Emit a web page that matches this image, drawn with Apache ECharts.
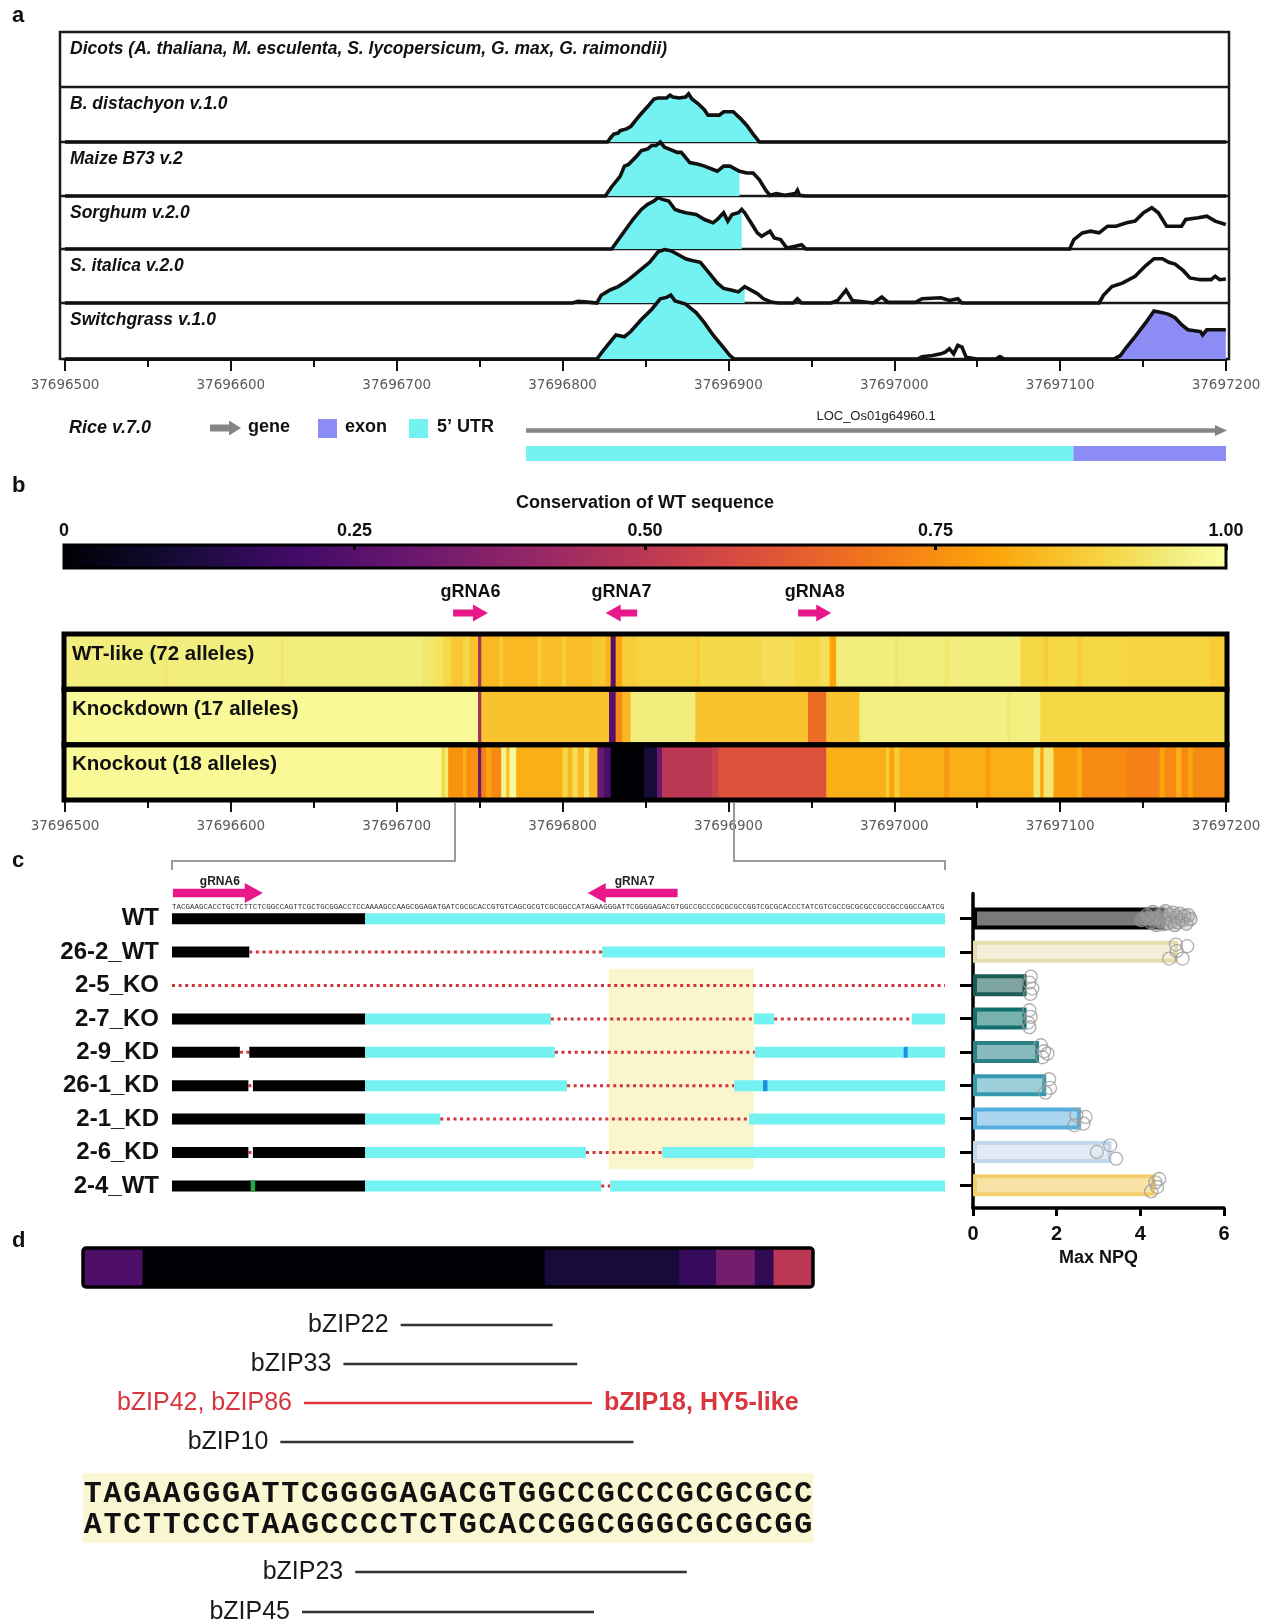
<!DOCTYPE html>
<html>
<head>
<meta charset="utf-8">
<script src="https://cdn.jsdelivr.net/npm/echarts@6/dist/echarts.min.js"></script>
<style>
  html, body { margin: 0; padding: 0; background: #fff; }
  #chart { width: 1270px; height: 1623px; }
</style>
</head>
<body>
<div id="chart"></div>
<script>
// ---------------------------------------------------------------- data
const REGION_START = 37696500;
const REGION_END = 37697200;

const SPECIES_LABELS = [
  'Dicots (A. thaliana, M. esculenta, S. lycopersicum, G. max, G. raimondii)',
  'B. distachyon v.1.0', 'Maize B73 v.2', 'Sorghum v.2.0', 'S. italica v.2.0', 'Switchgrass v.1.0'
];

// conservation profiles: [bp offset from REGION_START, % identity] (50 = baseline)
const CONS_BDISTACHYON = [[0,50],[327.1,50],[329.1,54.1],[330.9,57.2],[333.5,58.1],[334.7,60.3],[338.5,61.9],[341.1,64.1],[344.9,71.3],[347.5,75.9],[351.3,82.2],[355.1,89.1],[357.6,90],[362.7,90],[364.8,92.5],[366.5,90.9],[370.4,90],[374.2,90.9],[376,93.8],[378,89.1],[381.8,84.7],[385.6,79.1],[387.7,74.4],[394.5,74.4],[397.1,77.5],[402.9,77.5],[407.3,71.3],[411.1,65],[414.9,57.2],[418.7,50],[700,50]];
const CONS_MAIZE = [[0,50],[325.8,50],[329.6,58.6],[334.7,68.2],[337.3,77.7],[339.8,79.3],[344.9,87.3],[347.5,92],[351.3,93.6],[353.8,96.8],[356.4,96.8],[358.9,100],[361.5,95.2],[364,93.6],[369.1,90.4],[371.6,90.4],[376.7,80.9],[381.8,79.3],[385.6,77.7],[390.7,74.5],[393.3,72.9],[397.1,77.7],[400.9,77.7],[406.7,72.9],[407.3,72.9],[411.1,71.3],[414.9,71.3],[418.7,65],[422.5,55.4],[425.1,50.6],[428.9,52.2],[434,50.6],[440.3,52.2],[441.6,55.4],[442.9,50.6],[446.7,50],[700,50]];
const CONS_SORGHUM = [[0,50],[329.6,50],[332.2,55.7],[337.3,66.8],[342.4,77.8],[347.5,87.3],[351.3,92.1],[355.1,95.3],[357.6,98.4],[360.2,96.8],[364,95.3],[367.8,87.3],[370.4,85.8],[374.2,84.2],[380.5,82.6],[385.6,77.8],[390.7,74.7],[393.3,77.8],[397.1,84.2],[399.6,76.3],[402.2,82.6],[406,84.2],[408,87.3],[409.8,84.2],[413.6,74.7],[417.4,65.2],[420,62],[425.1,66.8],[427.6,60.4],[431.4,58.9],[435.2,51],[440.3,52.5],[444.1,54.1],[446.7,50],[605.7,50],[608.3,58.9],[613.4,65.2],[618.4,66.8],[623.5,65.2],[628.6,71.5],[633.7,71.5],[640.1,74.7],[645.2,76.3],[650.3,84.2],[655.3,88.9],[659.2,84.2],[664.2,71.5],[668.1,71.5],[673.2,71.5],[675.7,77.8],[683.3,79.4],[688.4,81],[693.5,76.3],[699.9,73.1]];
const CONS_SITALICA = [[0,50],[306,50],[309.3,51.6],[316.9,50.6],[320.7,50],[323.3,57.1],[328.4,61.9],[333.5,65.2],[338.5,70],[342.4,74.8],[347.5,81.3],[352.5,87.7],[357.6,97.4],[361.5,99.5],[365.3,98.5],[370.4,94.2],[374.2,91],[378,89.4],[383.1,87.7],[388.2,78.1],[393.3,68.4],[397.1,63.5],[402.2,61.9],[406,60.3],[409.8,65.2],[413.6,61.9],[417.4,58.7],[421.2,53.9],[426.3,50.6],[430.2,50],[439.1,50],[441.6,53.9],[444.1,50],[462,50],[465.8,52.3],[470.9,61.9],[474.7,52.3],[487.4,50],[492.5,55.5],[496.3,50.6],[512.8,50.6],[516.7,53.9],[528.1,54.8],[533.2,52.3],[538.3,53.9],[540.8,50],[623.5,50],[626.1,57.1],[631.2,65.2],[637.5,68.4],[645.2,74.8],[651.5,84.5],[656.6,91],[661.7,91],[665.5,87.7],[669.3,86.1],[674.4,79.7],[678.2,73.2],[684.6,71.6],[691,71.6],[693.5,74.8],[696.1,71.6],[699.9,72.3]];
const CONS_SWITCHGRASS = [[0,50],[320.7,50],[324.6,57.7],[329.6,66.9],[332.2,71.5],[337.3,69.9],[341.1,74.5],[347.5,85.3],[353.8,94.5],[358.9,103.7],[362.7,105],[365.3,107],[367.8,101.8],[374.2,99.1],[380.5,91.4],[385.6,82.2],[390.7,71.5],[395.8,62.3],[400.9,53.1],[403.4,50],[514.1,50],[516.7,52.1],[523,53.1],[528.1,54.6],[530.7,56.1],[533.2,59.2],[535.8,54.6],[538.3,62.3],[540.8,60.7],[543.4,51.5],[549.7,50],[561.2,50],[563.7,52.1],[566.3,50],[632.4,50],[636.3,53.1],[640.1,60.7],[645.2,69.9],[651.5,82.2],[656.6,92.9],[661.7,91.4],[665.5,89.9],[669.3,86.8],[673.2,80.7],[677,76.1],[684.6,74.5],[685.9,71.5],[688.4,76.1],[693.5,76.1],[699.9,76.1]];

// conserved 5' UTR / exon shading spans (bp offsets), one per species row
const UTR_SHADE = [[327, 420], [325.8, 406.7], [329.6, 408], [320.7, 409.8], [320.7, 403.4]];
const EXON_SHADE = [null, null, null, null, [632.4, 700]];

// rice gene model (bp offsets)
const RICE_GENE = [278, 700];
const RICE_UTR5 = [278, 608];
const RICE_EXON = [608, 700];
const RICE_TRANSCRIPT = 'LOC_Os01g64960.1';

// colour bar
const COLORBAR_TICKS = ['0', '0.25', '0.50', '0.75', '1.00'];

// gRNA target sites (bp offsets, strand)
const GRNA_NAMES = ['gRNA6', 'gRNA7', 'gRNA8'];
const GRNA_SPANS = [[234, 255, 1], [326, 345, -1], [442, 462, 1]];

// per-base conservation of the WT sequence: [from, to, fraction]
const ALLELE_GROUPS = ['WT-like (72 alleles)', 'Knockdown (17 alleles)', 'Knockout (18 alleles)'];
const CONS_WT_LIKE = [[0,60,0.955],[60,62,0.94],[62,130,0.955],[130,132,0.94],[132,215,0.955],[215,222,0.94],[222,228,0.925],[228,233,0.9],[233,240,0.87],[240,244,0.9],[244,249,0.86],[249,251,0.45],[251,262,0.84],[262,264,0.88],[264,285,0.84],[285,287,0.88],[287,300,0.85],[300,302,0.89],[302,318,0.85],[318,326,0.87],[326,329,0.83],[329,332,0.25],[332,336,0.8],[336,345,0.88],[345,380,0.895],[380,383,0.875],[383,420,0.905],[420,440,0.915],[440,455,0.9],[455,461,0.92],[461,465,0.8],[465,500,0.955],[500,503,0.94],[503,530,0.955],[530,533,0.94],[533,576,0.955],[576,590,0.9],[590,593,0.88],[593,610,0.9],[610,613,0.875],[613,640,0.9],[640,690,0.895],[690,700,0.875]];
const CONS_KNOCKDOWN = [[0,249,0.985],[249,251,0.45],[251,328,0.86],[328,332,0.25],[332,336,0.74],[336,341,0.84],[341,380,0.955],[380,448,0.86],[448,459,0.67],[459,479,0.86],[479,568,0.96],[568,570,0.94],[570,588,0.96],[588,700,0.9]];
const CONS_KNOCKOUT = [[0,227,0.985],[227,229,0.9],[229,231,0.95],[231,240,0.76],[240,242,0.82],[242,249,0.75],[249,251,0.3],[251,254,0.72],[254,257,0.8],[257,263,0.74],[263,266,0.97],[266,268,0.85],[268,272,0.99],[272,300,0.82],[300,303,0.9],[303,306,0.84],[306,309,0.92],[309,313,0.84],[313,316,0.93],[316,321,0.84],[321,325,0.3],[325,329,0.22],[329,349,0.0],[349,357,0.1],[357,360,0.3],[360,390,0.5],[390,394,0.54],[394,459,0.6],[459,495,0.82],[495,497,0.88],[497,500,0.8],[500,503,0.88],[503,530,0.82],[530,533,0.77],[533,555,0.82],[555,558,0.78],[558,584,0.82],[584,588,0.94],[588,590,0.8],[590,596,0.94],[596,610,0.78],[610,613,0.82],[613,640,0.74],[640,660,0.72],[660,663,0.8],[663,670,0.74],[670,673,0.82],[673,677,0.74],[677,680,0.8],[680,700,0.74]];

// panel c: target sequence and edited alleles (positions = index in the sequence)
const TARGET_SEQUENCE = 'TACGAAGCACCTGCTCTTCTCGGCCAGTTCGCTGCGGACCTCCAAAAGCCAAGCGGAGATGATCGCGCACCGTGTCAGCGCGTCGCGGCCATAGAAGGGATTCGGGGAGACGTGGCCGCCCGCGCGCCGGTCGCGCACCCTATCGTCGCCGCGCGCCGCCGCCGGCCAATCG';
const TARGET_GRNA_NAMES = ['gRNA6', 'gRNA7'];
const TARGET_GRNA_SPANS = [[0.2, 20.2, 1], [92.5, 112.5, -1]];
const LINES = ['WT', '26-2_WT', '2-5_KO', '2-7_KO', '2-9_KD', '26-1_KD', '2-1_KD', '2-6_KD', '2-4_WT'];
// P promoter, U 5' UTR, D deletion, S substitution, I insertion
const ALLELE_SEGMENTS = [
  [[0,43,'P'],[43,172,'U']],
  [[0,17.2,'P'],[17.2,95.7,'D'],[95.7,172,'U']],
  [[0,172,'D']],
  [[0,43,'P'],[43,84.3,'U'],[84.3,129.5,'D'],[129.5,134,'U'],[134,164.6,'D'],[164.6,172,'U']],
  [[0,15.1,'P'],[15.1,17.2,'D'],[17.2,43,'P'],[43,85.2,'U'],[85.2,129.7,'D'],[129.7,172,'U'],[162.8,163.7,'S']],
  [[0,17,'P'],[17,18,'D'],[18,43,'P'],[43,87.9,'U'],[87.9,125.1,'D'],[125.1,172,'U'],[131.5,132.5,'S']],
  [[0,43,'P'],[43,59.7,'U'],[59.7,128.4,'D'],[128.4,172,'U']],
  [[0,17,'P'],[17,18,'D'],[18,43,'P'],[43,92.1,'U'],[92.1,109.1,'D'],[109.1,172,'U']],
  [[0,43,'P'],[43,95.5,'U'],[95.5,97.5,'D'],[97.5,172,'U'],[17.5,18.5,'I']]
];
const MOTIF_WINDOW = [97.2, 129.5, 2, 7]; // sequence span, first and last line

// Max NPQ per line: mean and replicates [value, jitter in row units]
const NPQ_MEAN = [4.58, 4.9, 1.28, 1.28, 1.58, 1.75, 2.58, 3.31, 4.36];
const NPQ_REPS = [
  [[4.02,0.05],[4.15,-0.1],[4.25,0.12],[4.3,-0.2],[4.38,0.2],[4.42,-0.05],[4.48,0.08],[4.52,-0.15],[4.55,0.18],[4.6,-0.22],[4.62,0.02],[4.66,0.15],[4.7,-0.12],[4.74,0.1],[4.78,-0.18],[4.82,0.2],[4.86,-0.05],[4.9,0.12],[4.95,-0.15],[5.0,0.05],[5.05,-0.08],[5.1,0.16],[5.15,-0.1],[5.2,0.02]],
  [[5.12,-0.17],[4.85,-0.22],[4.87,-0.02],[4.69,0.2],[5.01,0.2]],
  [[1.38,-0.26],[1.35,-0.08],[1.42,0.1],[1.37,0.26]],
  [[1.35,-0.25],[1.38,-0.05],[1.32,0.12],[1.35,0.26]],
  [[1.62,-0.2],[1.7,-0.02],[1.66,0.16],[1.78,0.05]],
  [[1.82,-0.18],[1.84,0.08],[1.73,0.22]],
  [[2.47,-0.1],[2.69,-0.05],[2.64,0.15],[2.42,0.2]],
  [[2.96,0.0],[3.28,-0.2],[3.42,0.2]],
  [[4.26,0.18],[4.36,-0.09],[4.45,-0.19],[4.4,0.05]]
];

// panel d: G-box region in the knockout deletion
const MOTIF_TOP = 'TAGAAGGGATTCGGGGAGACGTGGCCGCCCGCGCGCC';
const MOTIF_BOTTOM = 'ATCTTCCCTAAGCCCCTCTGCACCGGCGGGCGCGCGG';
const MOTIF_CONS = [[0,3,0.23],[3,23.4,0.0],[23.4,30.2,0.1],[30.2,32.1,0.17],[32.1,34.05,0.33],[34.05,35,0.16],[35,37,0.5]];
const BZIP_ABOVE = ['bZIP22', 'bZIP33', 'bZIP42, bZIP86', 'bZIP10'];
const BZIP_ABOVE_SPANS = [[16.1,23.8],[13.2,25.05],[11.2,25.8],[10.0,27.9]];
const BZIP_BELOW = ['bZIP23', 'bZIP45'];
const BZIP_BELOW_SPANS = [[13.8,30.6],[11.1,25.9]];
const BZIP_PARTNER = 'bZIP18, HY5-like';

// ---------------------------------------------------------------- styles
const FONT = '"Liberation Sans", Arial, sans-serif';
const CYAN = '#74f2f2';
const EXON_PURPLE = '#8c8cf5';
const MAGENTA = '#e8178a';
const DEL_RED = '#d0343c';
const GENE_GREY = '#858585';
const BZIP_RED = '#d8353d';
const INFERNO_STOPS = [[0,'#000004'],[0.1,'#160b39'],[0.2,'#420a68'],[0.3,'#6a176e'],[0.4,'#932667'],[0.5,'#bc3754'],[0.6,'#dd513a'],[0.7,'#f37819'],[0.8,'#fca50a'],[0.9,'#f6d746'],[0.95,'#f1ec7a'],[1,'#fcffa4']];
const SEG_KINDS = 'PUDSI';
const SEG_COLORS = { P: '#000000', U: CYAN, S: '#1f8fe0', I: '#22a845' };
const NPQ_EDGE = ['#000000','#e6dcae','#1c5b56','#137070','#2b8087','#3699b0','#56ade0','#c3d6ea','#f4ce6c'];
const NPQ_FILL = ['#7a7a7a','#f4efd8','#80a6a2','#77b2af','#86babd','#9dcfdb','#acd6f0','#e2ebf5','#f8e2a6'];

// ---------------------------------------------------------------- helpers
const hexRgb = h => [1, 3, 5].map(i => parseInt(h.slice(i, i + 2), 16));
function infernoColor(v) {
  const s = INFERNO_STOPS;
  if (v <= s[0][0]) return s[0][1];
  for (let i = 1; i < s.length; i++) {
    if (v <= s[i][0]) {
      const t = (v - s[i - 1][0]) / (s[i][0] - s[i - 1][0]);
      const a = hexRgb(s[i - 1][1]), b = hexRgb(s[i][1]);
      return 'rgb(' + a.map((c, k) => Math.round(c + (b[k] - c) * t)).join(',') + ')';
    }
  }
  return s[s.length - 1][1];
}

const grids = [], xAxes = [], yAxes = [], series = [], graphics = [];
function addGrid(g, x, y) {
  grids.push(Object.assign({ containLabel: false }, g));
  const i = grids.length - 1;
  xAxes.push(Object.assign({ gridIndex: i }, x));
  yAxes.push(Object.assign({ gridIndex: i }, y));
  return i;
}
function addSeries(s) { series.push(s); return series.length - 1; }
const HIDDEN_VALUE = (min, max, inverse) => ({ type: 'value', min, max, inverse: !!inverse, show: false, axisLine: { onZero: false } });

function genomicX(show) {
  return {
    type: 'value', min: REGION_START, max: REGION_END, interval: 100, show,
    axisLine: { show: true, onZero: false, lineStyle: { color: '#111', width: 3 } },
    axisTick: { show: true, length: 12, lineStyle: { color: '#111', width: 2 } },
    minorTick: { show: true, splitNumber: 2, length: 8, lineStyle: { color: '#111', width: 2 } },
    axisLabel: { margin: 19, color: '#5a5a5a', fontSize: 13.5, fontFamily: '"DejaVu Sans", sans-serif', formatter: v => String(v) },
    splitLine: { show: false }, minorSplitLine: { show: false }
  };
}
function arrowPoints(x0, x1, yc, sh, hh, hl, dir) {
  if (dir > 0) return [[x0, yc - sh], [x1 - hl, yc - sh], [x1 - hl, yc - hh], [x1, yc], [x1 - hl, yc + hh], [x1 - hl, yc + sh], [x0, yc + sh]];
  return [[x1, yc - sh], [x0 + hl, yc - sh], [x0 + hl, yc - hh], [x0, yc], [x0 + hl, yc + hh], [x0 + hl, yc + sh], [x1, yc + sh]];
}
function txt(text, x, y, font, extra) {
  graphics.push({ type: 'text', z: 20, style: Object.assign({ text, x, y, font, fill: '#111', align: 'left', verticalAlign: 'middle', textAlign: 'left', textVerticalAlign: 'middle' }, extra || {}) });
}
const rs = v => REGION_START + v;

// ---------------------------------------------------------------- panel a: conservation profiles
const ROW_EDGES = [87, 142, 196, 249, 303, 359];
[CONS_BDISTACHYON, CONS_MAIZE, CONS_SORGHUM, CONS_SITALICA, CONS_SWITCHGRASS].forEach((profile, i) => {
  const gi = addGrid({ left: 65, width: 1161, top: ROW_EDGES[i], height: ROW_EDGES[i + 1] - ROW_EDGES[i] },
    genomicX(i === 4), HIDDEN_VALUE(50, 100));
  const pts = profile.map(p => [rs(p[0]), p[1]]);
  const shade = (span, color) => addSeries({
    type: 'line', xAxisIndex: gi, yAxisIndex: gi, silent: true, clip: false, z: 1,
    data: pts.filter(p => p[0] >= rs(span[0]) && p[0] <= rs(span[1])),
    showSymbol: false, lineStyle: { width: 0 }, areaStyle: { color, opacity: 1, origin: 'start' }
  });
  shade(UTR_SHADE[i], CYAN);
  if (EXON_SHADE[i]) shade(EXON_SHADE[i], EXON_PURPLE);
  addSeries({ type: 'line', xAxisIndex: gi, yAxisIndex: gi, silent: true, clip: false, z: 3, data: pts, showSymbol: false,
    lineStyle: { color: '#111', width: 3.6, join: 'miter' } });
});

// rice gene model
const gGene = addGrid({ left: 65, width: 1161, top: 419, height: 46 }, genomicX(false), HIDDEN_VALUE(0, 2, true));
addSeries({
  type: 'custom', xAxisIndex: gGene, yAxisIndex: gGene, silent: true, encode: { x: [0, 1], y: 2 },
  data: [[rs(RICE_GENE[0]), rs(RICE_GENE[1]), 0.5]],
  renderItem: (params, api) => {
    const a = api.coord([api.value(0), api.value(2)]), b = api.coord([api.value(1), api.value(2)]);
    return { type: 'group', children: [
      { type: 'line', shape: { x1: a[0], y1: a[1], x2: b[0] - 8, y2: a[1] }, style: { stroke: GENE_GREY, lineWidth: 4.6 } },
      { type: 'polygon', shape: { points: [[b[0] - 11, a[1] - 5.5], [b[0] + 1, a[1]], [b[0] - 11, a[1] + 5.5]] }, style: { fill: GENE_GREY } },
      { type: 'text', style: { text: RICE_TRANSCRIPT, x: (a[0] + b[0]) / 2, y: a[1] - 14, align: 'center', verticalAlign: 'middle', textAlign: 'center', textVerticalAlign: 'middle', font: '13px ' + FONT, fill: '#222' } }
    ] };
  }
});
addSeries({
  type: 'custom', xAxisIndex: gGene, yAxisIndex: gGene, silent: true, encode: { x: [0, 1], y: 2 },
  data: [[rs(RICE_UTR5[0]), rs(RICE_UTR5[1]), 1.5, 0], [rs(RICE_EXON[0]), rs(RICE_EXON[1]), 1.5, 1]],
  renderItem: (params, api) => {
    const a = api.coord([api.value(0), api.value(2)]), b = api.coord([api.value(1), api.value(2)]);
    return { type: 'rect', shape: { x: a[0], y: a[1] - 7.5, width: b[0] - a[0], height: 15 }, style: { fill: api.value(3) === 1 ? EXON_PURPLE : CYAN } };
  }
});

// ---------------------------------------------------------------- panel b
const colorbarFill = new echarts.graphic.LinearGradient(0, 0, 1, 0,
  INFERNO_STOPS.map(s => ({ offset: s[0], color: s[1] })));
const gBar = addGrid({ left: 64, width: 1162, top: 545, height: 23, show: true, backgroundColor: colorbarFill, borderColor: '#000', borderWidth: 3 },
  { type: 'value', min: 0, max: 1, interval: 0.25, position: 'top',
    axisLine: { show: false, onZero: false },
    axisTick: { show: true, inside: true, length: 5, lineStyle: { color: '#000', width: 3 } },
    axisLabel: { margin: 5, fontFamily: FONT, fontWeight: 'bold', fontSize: 18, color: '#111', formatter: v => COLORBAR_TICKS[Math.round(v / 0.25)] },
    splitLine: { show: false } },
  HIDDEN_VALUE(0, 1));

const gGrna = addGrid({ left: 65, width: 1161, top: 600, height: 26 }, genomicX(false), HIDDEN_VALUE(0, 1, true));
addSeries({
  type: 'custom', xAxisIndex: gGrna, yAxisIndex: gGrna, silent: true, encode: { x: [0, 1], y: 3 },
  data: GRNA_SPANS.map(s => [rs(s[0]), rs(s[1]), s[2], 0.5]),
  renderItem: (params, api) => {
    const a = api.coord([api.value(0), api.value(3)]), b = api.coord([api.value(1), api.value(3)]);
    return { type: 'group', children: [
      { type: 'polygon', shape: { points: arrowPoints(a[0], b[0], a[1], 3.6, 8.5, 15, api.value(2)) }, style: { fill: MAGENTA } },
      { type: 'text', style: { text: GRNA_NAMES[params.dataIndex], x: (a[0] + b[0]) / 2, y: a[1] - 21, align: 'center', verticalAlign: 'middle', textAlign: 'center', textVerticalAlign: 'middle', font: 'bold 18px ' + FONT, fill: '#111' } }
    ] };
  }
});

const gHeat = addGrid({ left: 65, width: 1161, top: 634, height: 166 },
  Object.assign(genomicX(true), { axisLine: { show: false, onZero: false } }),
  { type: 'category', data: ALLELE_GROUPS, inverse: true, axisLine: { show: false }, axisTick: { show: false }, axisLabel: { show: false } });
const heatData = [];
[CONS_WT_LIKE, CONS_KNOCKDOWN, CONS_KNOCKOUT].forEach((row, r) => row.forEach(s => heatData.push([rs(s[0]), rs(s[1]), s[2], r])));
addSeries({
  type: 'custom', xAxisIndex: gHeat, yAxisIndex: gHeat, silent: true, encode: { x: [0, 1], y: 3 }, z: 2,
  data: heatData,
  renderItem: (params, api) => {
    const a = api.coord([api.value(0), api.value(3)]), b = api.coord([api.value(1), api.value(3)]);
    const h = api.size([0, 1])[1];
    return { type: 'rect', shape: { x: a[0], y: a[1] - h / 2, width: b[0] - a[0] + 0.6, height: h }, style: { fill: infernoColor(api.value(2)) } };
  }
});
addSeries({
  type: 'custom', xAxisIndex: gHeat, yAxisIndex: gHeat, silent: true, encode: { x: [0, 1], y: 2 }, z: 5,
  data: ALLELE_GROUPS.map((g, r) => [REGION_START, REGION_END, r]),
  renderItem: (params, api) => {
    const a = api.coord([api.value(0), api.value(2)]), b = api.coord([api.value(1), api.value(2)]);
    const h = api.size([0, 1])[1];
    return { type: 'group', children: [
      { type: 'rect', shape: { x: a[0] - 1, y: a[1] - h / 2, width: b[0] - a[0] + 2, height: h }, style: { fill: 'none', stroke: '#000', lineWidth: 5 } },
      { type: 'text', style: { text: ALLELE_GROUPS[params.dataIndex], x: a[0] + 7, y: a[1] - 7.5, align: 'left', verticalAlign: 'middle', textAlign: 'left', textVerticalAlign: 'middle', font: 'bold 20.5px ' + FONT, fill: '#111' } }
    ] };
  }
});

// ---------------------------------------------------------------- panel c
const SEQ_LEN = TARGET_SEQUENCE.length;
const gHead = addGrid({ left: 172, width: 773, top: 875, height: 40 }, HIDDEN_VALUE(0, SEQ_LEN), HIDDEN_VALUE(0, 1, true));
addSeries({
  type: 'custom', xAxisIndex: gHead, yAxisIndex: gHead, silent: true, encode: { x: [0, 1], y: 3 },
  data: TARGET_GRNA_SPANS.map(s => [s[0], s[1], s[2], 0.45]),
  renderItem: (params, api) => {
    const a = api.coord([api.value(0), api.value(3)]), b = api.coord([api.value(1), api.value(3)]);
    return { type: 'group', children: [
      { type: 'polygon', shape: { points: arrowPoints(a[0], b[0], a[1], 4.3, 10, 18, api.value(2)) }, style: { fill: MAGENTA } },
      { type: 'text', style: { text: TARGET_GRNA_NAMES[params.dataIndex], x: (a[0] + b[0]) / 2 + 2, y: a[1] - 11, align: 'center', verticalAlign: 'middle', textAlign: 'center', textVerticalAlign: 'middle', font: 'bold 12px ' + FONT, fill: '#222' } }
    ] };
  }
});
addSeries({
  type: 'custom', xAxisIndex: gHead, yAxisIndex: gHead, silent: true, encode: { x: [0, 1], y: 2 },
  data: [[0, SEQ_LEN, 0.8]],
  renderItem: (params, api) => {
    const a = api.coord([api.value(0), api.value(2)]), b = api.coord([api.value(1), api.value(2)]);
    const fs = (b[0] - a[0]) / SEQ_LEN / 0.6;
    return { type: 'text', style: { text: TARGET_SEQUENCE, x: a[0], y: a[1], align: 'left', verticalAlign: 'middle', textAlign: 'left', textVerticalAlign: 'middle', font: fs.toFixed(2) + 'px "Liberation Mono", monospace', fill: '#333' } };
  }
});

const gAln = addGrid({ left: 172, width: 773, top: 902, height: 300.6 }, HIDDEN_VALUE(0, SEQ_LEN),
  { type: 'category', data: LINES, inverse: true, axisLine: { show: false }, axisTick: { show: false },
    axisLabel: { margin: 13, fontFamily: FONT, fontWeight: 'bold', fontSize: 24, color: '#111' } });
addSeries({
  type: 'custom', xAxisIndex: gAln, yAxisIndex: gAln, silent: true, encode: { x: [0, 1], y: [2, 3] }, z: 1,
  data: [MOTIF_WINDOW],
  renderItem: (params, api) => {
    const a = api.coord([api.value(0), api.value(2)]), b = api.coord([api.value(1), api.value(3)]);
    const h = api.size([0, 1])[1];
    return { type: 'rect', shape: { x: a[0], y: a[1] - h / 2, width: b[0] - a[0], height: b[1] - a[1] + h }, style: { fill: '#fbf5cd' } };
  }
});
const alnData = [];
ALLELE_SEGMENTS.forEach((segs, r) => segs.forEach(s => alnData.push([s[0], s[1], SEG_KINDS.indexOf(s[2]), r])));
addSeries({
  type: 'custom', xAxisIndex: gAln, yAxisIndex: gAln, silent: true, encode: { x: [0, 1], y: 3 }, z: 2,
  data: alnData,
  renderItem: (params, api) => {
    const kind = SEG_KINDS[api.value(2)];
    const a = api.coord([api.value(0), api.value(3)]), b = api.coord([api.value(1), api.value(3)]);
    if (kind === 'D') {
      return { type: 'line', shape: { x1: a[0], y1: a[1], x2: b[0], y2: b[1] }, style: { stroke: DEL_RED, lineWidth: 3, lineDash: [3, 3.6] } };
    }
    return { type: 'rect', shape: { x: a[0], y: a[1] - 5.5, width: b[0] - a[0], height: 11 }, style: { fill: SEG_COLORS[kind] } };
  }
});

// Max NPQ
const gNpq = addGrid({ left: 973, top: 893.5, width: 251, height: 314.5 },
  { type: 'value', min: 0, max: 6, interval: 2,
    axisLine: { show: true, onZero: false, lineStyle: { color: '#000', width: 3.5 } },
    axisTick: { show: true, length: 8, lineStyle: { color: '#000', width: 3 } },
    axisLabel: { margin: 16, fontFamily: FONT, fontWeight: 'bold', fontSize: 20, color: '#111' },
    splitLine: { show: false },
    name: 'Max NPQ', nameLocation: 'middle', nameGap: 41,
    nameTextStyle: { fontFamily: FONT, fontWeight: 'bold', fontSize: 18, color: '#111' } },
  { type: 'value', min: -0.75, max: 8.68, inverse: true,
    axisLine: { show: true, onZero: false, lineStyle: { color: '#000', width: 3.5 } },
    axisTick: { show: true, length: 13, customValues: LINES.map((l, i) => i), lineStyle: { color: '#000', width: 3 } },
    axisLabel: { show: false }, splitLine: { show: false } });
addSeries({
  type: 'custom', xAxisIndex: gNpq, yAxisIndex: gNpq, silent: true, encode: { x: 0, y: 1 }, z: 2,
  data: NPQ_MEAN.map((v, i) => [v, i]),
  renderItem: (params, api) => {
    const row = api.value(1);
    const a = api.coord([0, row]), b = api.coord([api.value(0), row]);
    return { type: 'rect', shape: { x: a[0] + 2, y: a[1] - 9, width: b[0] - a[0] - 4, height: 18 }, style: { fill: NPQ_FILL[row], stroke: NPQ_EDGE[row], lineWidth: 4 } };
  }
});
addSeries({
  type: 'scatter', xAxisIndex: gNpq, yAxisIndex: gNpq, silent: true, z: 4, symbol: 'circle', symbolSize: 13,
  data: NPQ_REPS[0].map(p => [p[0], p[1]]),
  itemStyle: { color: 'rgba(165,165,165,0.45)', borderColor: '#8e8e8e', borderWidth: 1.2 }
});
const repData = [];
NPQ_REPS.forEach((reps, r) => { if (r > 0) reps.forEach(p => repData.push([p[0], r + p[1]])); });
addSeries({
  type: 'scatter', xAxisIndex: gNpq, yAxisIndex: gNpq, silent: true, z: 4, symbol: 'circle', symbolSize: 13,
  data: repData,
  itemStyle: { color: 'rgba(255,255,255,0)', borderColor: '#9c9c9c', borderWidth: 1.3 }
});

// ---------------------------------------------------------------- panel d
const MOTIF_LEN = MOTIF_TOP.length;
const gStrip = addGrid({ left: 83, width: 730, top: 1248, height: 39 }, HIDDEN_VALUE(0, MOTIF_LEN), HIDDEN_VALUE(0, 1));
addSeries({
  type: 'custom', xAxisIndex: gStrip, yAxisIndex: gStrip, silent: true, encode: { x: [0, 1] }, z: 2,
  data: MOTIF_CONS,
  renderItem: (params, api) => {
    const a = api.coord([api.value(0), 0]), b = api.coord([api.value(1), 0]);
    const cs = params.coordSys;
    return { type: 'rect', shape: { x: a[0], y: cs.y, width: b[0] - a[0] + 0.5, height: cs.height }, style: { fill: infernoColor(api.value(2)) } };
  }
});
addSeries({
  type: 'custom', xAxisIndex: gStrip, yAxisIndex: gStrip, silent: true, encode: { x: [0, 1], y: 2 }, z: 5,
  data: [[0, MOTIF_LEN, 0.5]],
  renderItem: (params, api) => {
    const cs = params.coordSys;
    return { type: 'rect', shape: { x: cs.x, y: cs.y, width: cs.width, height: cs.height, r: 3 }, style: { fill: 'none', stroke: '#000', lineWidth: 3.5 } };
  }
});

function bzipRender(names, highlight) {
  return (params, api) => {
    const i = params.dataIndex, hl = i === highlight;
    const a = api.coord([api.value(0), api.value(2)]), b = api.coord([api.value(1), api.value(2)]);
    const children = [
      { type: 'line', shape: { x1: a[0], y1: a[1], x2: b[0], y2: b[1] }, style: { stroke: hl ? BZIP_RED : '#333', lineWidth: 2.6 } },
      { type: 'text', style: { text: names[i], x: a[0] - 12, y: a[1], align: 'right', verticalAlign: 'middle', textAlign: 'right', textVerticalAlign: 'middle', font: '25px ' + FONT, fill: hl ? BZIP_RED : '#1a1a1a' } }
    ];
    if (hl) children.push({ type: 'text', style: { text: BZIP_PARTNER, x: b[0] + 12, y: b[1], align: 'left', verticalAlign: 'middle', textAlign: 'left', textVerticalAlign: 'middle', font: 'bold 25px ' + FONT, fill: BZIP_RED } });
    return { type: 'group', children };
  };
}
const gAbove = addGrid({ left: 83, width: 730, top: 1305.5, height: 156 }, HIDDEN_VALUE(0, MOTIF_LEN), HIDDEN_VALUE(-0.5, 3.5, true));
addSeries({ type: 'custom', xAxisIndex: gAbove, yAxisIndex: gAbove, silent: true, encode: { x: [0, 1], y: 2 },
  data: BZIP_ABOVE_SPANS.map((s, i) => [s[0], s[1], i]), renderItem: bzipRender(BZIP_ABOVE, 2) });

const gSeq = addGrid({ left: 83, width: 730, top: 1473, height: 70, show: true, backgroundColor: '#fcf7d3', borderWidth: 0 },
  HIDDEN_VALUE(0, MOTIF_LEN), HIDDEN_VALUE(-0.73, 1.6, true));
const seqData = [];
[MOTIF_TOP, MOTIF_BOTTOM].forEach((s, line) => s.split('').forEach((c, i) => seqData.push([i + 0.5, line, i])));
addSeries({ type: 'custom', xAxisIndex: gSeq, yAxisIndex: gSeq, silent: true, encode: { x: 0, y: 1 },
  data: seqData,
  renderItem: (params, api) => {
    const p = api.coord([api.value(0), api.value(1)]);
    const ch = (api.value(1) === 0 ? MOTIF_TOP : MOTIF_BOTTOM)[api.value(2)];
    return { type: 'text', style: { text: ch, x: p[0], y: p[1], align: 'center', verticalAlign: 'middle', textAlign: 'center', textVerticalAlign: 'middle', font: 'bold 30px "Liberation Mono", monospace', fill: '#111' } };
  } });

const gBelow = addGrid({ left: 83, width: 730, top: 1552, height: 70 }, HIDDEN_VALUE(0, MOTIF_LEN), HIDDEN_VALUE(-0.5, 1.25, true));
addSeries({ type: 'custom', xAxisIndex: gBelow, yAxisIndex: gBelow, silent: true, encode: { x: [0, 1], y: 2 },
  data: BZIP_BELOW_SPANS.map((s, i) => [s[0], s[1], i]), renderItem: bzipRender(BZIP_BELOW, -1) });

// ---------------------------------------------------------------- annotations
const PANEL_FONT = 'bold 22px ' + FONT;
txt('a', 12, 16, PANEL_FONT);
txt('b', 12, 486, PANEL_FONT);
txt('c', 12, 861, PANEL_FONT);
txt('d', 12, 1241, PANEL_FONT);

// species track frame
graphics.push({ type: 'rect', z: 0, shape: { x: 60, y: 32, width: 1169, height: 327 }, style: { fill: 'none', stroke: '#1a1a1a', lineWidth: 2.5 } });
ROW_EDGES.slice(0, 5).forEach(y => graphics.push({ type: 'line', z: 0, shape: { x1: 60, y1: y, x2: 1229, y2: y }, style: { stroke: '#1a1a1a', lineWidth: 2.5 } }));
[49, 104, 159, 213, 266, 320].forEach((y, i) => txt(SPECIES_LABELS[i], 70, y, 'italic bold 17.5px ' + FONT));

// gene model legend
txt('Rice v.7.0', 69, 428, 'italic bold 18px ' + FONT);
graphics.push({ type: 'polygon', z: 20, shape: { points: arrowPoints(210, 241, 428, 3.5, 7.5, 12, 1) }, style: { fill: GENE_GREY } });
txt('gene', 248, 427, 'bold 18px ' + FONT);
graphics.push({ type: 'rect', z: 20, shape: { x: 318, y: 419, width: 19, height: 19 }, style: { fill: EXON_PURPLE } });
txt('exon', 345, 427, 'bold 18px ' + FONT);
graphics.push({ type: 'rect', z: 20, shape: { x: 409, y: 419, width: 19, height: 19 }, style: { fill: CYAN } });
txt('5\u2019 UTR', 437, 427, 'bold 18px ' + FONT);

// colour bar title
txt('Conservation of WT sequence', 645, 503, 'bold 18px ' + FONT, { align: 'center', textAlign: 'center' });

// zoom bracket from the heatmap to the allele panel
graphics.push({ type: 'polyline', z: 20, shape: { points: [[455, 803], [455, 861], [172, 861], [172, 870]] }, style: { fill: 'none', stroke: '#9a9a9a', lineWidth: 2 } });
graphics.push({ type: 'polyline', z: 20, shape: { points: [[734, 803], [734, 861], [945, 861], [945, 870]] }, style: { fill: 'none', stroke: '#9a9a9a', lineWidth: 2 } });

// ---------------------------------------------------------------- chart
const chart = echarts.init(document.getElementById('chart'), null, { renderer: 'canvas' });
chart.setOption({
  animation: false,
  backgroundColor: '#ffffff',
  grid: grids,
  xAxis: xAxes,
  yAxis: yAxes,
  graphic: { elements: graphics },
  series
});
</script>
</body>
</html>
